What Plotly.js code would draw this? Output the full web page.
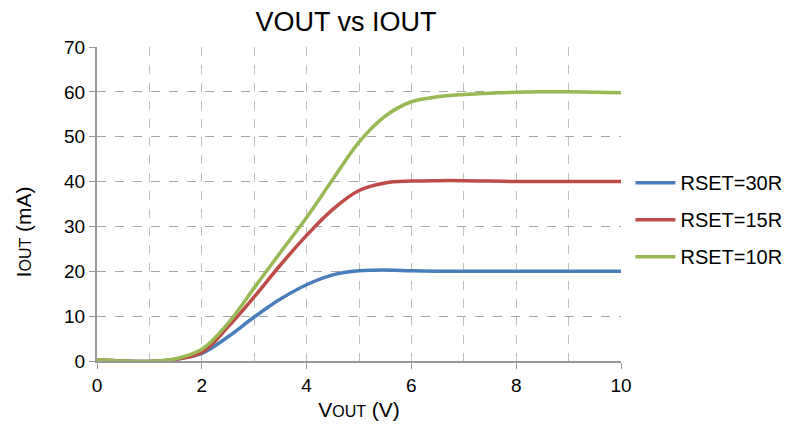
<!DOCTYPE html>
<html><head><meta charset="utf-8">
<script src="https://cdn.plot.ly/plotly-3.0.1.min.js"></script>
<style>html,body{margin:0;padding:0;background:#fff}#chart{width:788px;height:430px}</style>
</head><body><div id="chart"></div>
<script>
const vout = [0, 0.5, 1.0, 1.5, 2.0, 2.5, 3.0, 3.5, 4.0, 4.5, 5.0, 5.5, 6.0, 6.5, 7.0, 7.5, 8.0, 8.5, 9.0, 9.5, 10.0];
const rset30 = [0.3, 0.0, -0.1, 0.4, 1.7, 5.4, 9.8, 13.8, 17.0, 19.2, 20.1, 20.3, 20.1, 20.0, 20.0, 20.0, 20.0, 20.0, 20.0, 20.0, 20.0];
const rset15 = [0.3, 0.0, -0.1, 0.4, 1.9, 7.6, 14.3, 21.4, 28.0, 33.8, 38.0, 39.7, 40.1, 40.2, 40.2, 40.1, 40.0, 40.0, 40.0, 40.0, 40.0];
const rset10 = [0.3, 0.0, -0.1, 0.5, 2.6, 8.4, 16.3, 24.2, 32.0, 40.5, 48.8, 54.6, 57.8, 58.9, 59.4, 59.7, 59.9, 60.0, 60.0, 59.9, 59.8];
const names = ["RSET=30R", "RSET=15R", "RSET=10R"];
const colors = ["#4A7EBB", "#BE4B48", "#98B954"];
const series = [rset30, rset15, rset10];

const traces = series.map((s, i) => ({
  x: vout, y: s, name: names[i], type: "scatter", mode: "lines",
  line: {color: colors[i], width: 3.5, shape: "spline", smoothing: 1},
  legendgroup: "g" + i
}));

const small = t => '<span style="font-size:16px">' + t + '</span>';
const layout = {
  width: 788, height: 430,
  margin: {l: 97, r: 167, t: 47, b: 69, autoexpand: false},
  paper_bgcolor: "#fff", plot_bgcolor: "#fff",
  font: {family: "Liberation Sans, Arial, sans-serif", size: 19, color: "#000"},
  title: {text: "VOUT vs IOUT", x: 0.475, xref: "paper", xanchor: "center", y: 0.95, yanchor: "middle", font: {size: 27}},
  xaxis: {
    range: [0, 10], tickvals: [0, 2, 4, 6, 8, 10], ticks: "outside", ticklen: 6, tickcolor: "#999",
    showline: true, linecolor: "#999", linewidth: 2, zeroline: false,
    showgrid: false,
    minor: {dtick: 1, showgrid: true, gridcolor: "#c0c0c0", griddash: "dash", gridwidth: 1, ticks: ""},
    title: {text: "V" + small("OUT") + " (V)", standoff: 8, font: {size: 21}}
  },
  yaxis: {
    range: [0, 70], dtick: 10, ticks: "outside", ticklen: 6, tickcolor: "#999",
    showline: true, linecolor: "#999", linewidth: 2, zeroline: false,
    showgrid: true, gridcolor: "#a6a6a6", griddash: "dash", gridwidth: 1
  },
  annotations: [{
    text: "I" + small("OUT") + " (mA)", textangle: -90, showarrow: false,
    xref: "paper", yref: "paper", x: -0.141, y: 0.41, xanchor: "center", yanchor: "middle",
    font: {size: 21}
  }],
  legend: {x: 1.018, xanchor: "left", y: 0.63, yanchor: "top", traceorder: "grouped", tracegroupgap: 8,
    itemwidth: 40, font: {size: 20}, bgcolor: "rgba(0,0,0,0)"},
  showlegend: true
};
Plotly.newPlot("chart", traces, layout, {displayModeBar: false, staticPlot: true});
</script></body></html>
